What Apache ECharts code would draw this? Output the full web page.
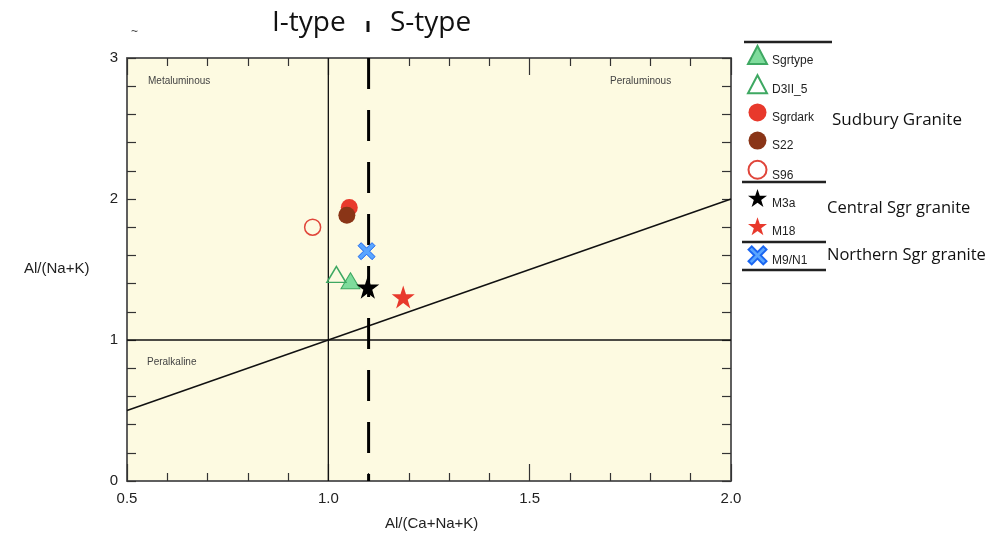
<!DOCTYPE html>
<html>
<head>
<meta charset="utf-8">
<script src="https://cdn.jsdelivr.net/npm/echarts@6/dist/echarts.min.js"></script>
<style>html,body{margin:0;padding:0;background:#fff}#c{width:987px;height:542px}</style>
</head>
<body>
<div id="c"></div>
<script>
// ---- data ----
const xTicks = [0.5, 1.0, 1.5, 2.0];
const yTicks = [0, 1, 2, 3];
const sgrtype = [[1.055, 1.42]];
const d3ii5 = [[1.02, 1.465]];
const sgrdark = [[1.052, 1.94]];
const s22 = [[1.046, 1.885]];
const s96 = [[0.961, 1.80]];
const m3a = [[1.098, 1.375]];
const m18 = [[1.186, 1.305]];
const m9n1 = [[1.095, 1.63]];
// reference lines
const lineDiag = [[0.5, 0.5], [2.0, 2.0]];
const lineV1 = [[1.0, 0], [1.0, 3]];
const lineH1 = [[0.5, 1], [2.0, 1]];
const lineV11 = [[1.1, 3], [1.1, 0]];

const STAR = 'path://M50,0 L61.8,35.4 L99,35.4 L69,57.3 L80.4,92.7 L50,70.8 L19.6,92.7 L31,57.3 L1,35.4 L38.2,35.4 Z';
const XSYM = 'path://M0,18 L18,0 L50,32 L82,0 L100,18 L68,50 L100,82 L82,100 L50,68 L18,100 L0,82 L32,50 Z';

const chart = echarts.init(document.getElementById('c'));
const axisCommonX = (pos, labels) => ({
  type: 'value', position: pos, min: 0.5, max: 2.0, interval: 0.5,
  axisLine: {show: true, onZero: false, lineStyle: {color: '#555', width: 1.5}},
  axisTick: {show: true, inside: true, length: 17, lineStyle: {color: '#333', width: 1.2}},
  minorTick: {show: true, splitNumber: 5, length: 8, lineStyle: {color: '#333', width: 1.2}},
  splitLine: {show: false},
  axisLabel: labels ? {show: true, fontFamily: 'Liberation Sans', fontSize: 15, color: '#222', margin: 10,
    formatter: v => v.toFixed(1)} : {show: false}
});
const axisCommonY = (pos, labels) => ({
  type: 'value', position: pos, min: 0, max: 3, interval: 1,
  axisLine: {show: true, onZero: false, lineStyle: {color: '#555', width: 1.5}},
  axisTick: {show: true, inside: true, length: 9, lineStyle: {color: '#333', width: 1.2}},
  minorTick: {show: true, splitNumber: 5, length: 9, lineStyle: {color: '#333', width: 1.2}},
  splitLine: {show: false},
  axisLabel: labels ? {show: true, fontFamily: 'Liberation Sans', fontSize: 15, color: '#222', margin: 9} : {show: false}
});

const lineSeries = (data, style) => ({
  type: 'line', data: data, symbol: 'none', silent: true, z: 1,
  lineStyle: style, animation: false
});

const option = {
  animation: false,
  grid: {left: 127, right: 256, top: 58, bottom: 61, show: true, backgroundColor: '#FDFAE1', borderColor: '#555', borderWidth: 1.5},
  xAxis: [axisCommonX('bottom', true), axisCommonX('top', false)],
  yAxis: [axisCommonY('left', true), axisCommonY('right', false)],
  legend: {
    orient: 'vertical', left: 747, top: 45, padding: 0, itemWidth: 19, itemHeight: 18, itemGap: 7.7,
    formatter: '{a|{name}}',
    textStyle: {fontFamily: 'Liberation Sans', fontSize: 12, color: '#222',
      rich: {a: {fontFamily: 'Liberation Sans', fontSize: 12, color: '#222', padding: [11, 0, 0, 0]}}},
    data: ['Sgrtype', 'D3II_5', 'Sgrdark', 'S22', 'S96', 'M3a', 'M18', 'M9/N1']
  },
  series: [
    lineSeries(lineDiag, {color: '#111', width: 1.5}),
    lineSeries(lineV1, {color: '#111', width: 1.3}),
    lineSeries(lineH1, {color: '#111', width: 1.3}),
    lineSeries(lineV11, {color: '#000', width: 3, type: [31, 21]}),
    {name: 'Sgrtype', type: 'scatter', data: sgrtype, symbol: 'triangle', symbolSize: [19, 16], z: 3,
      itemStyle: {color: '#7fdc9c', borderColor: '#3ea862', borderWidth: 1, opacity: 1}},
    {name: 'D3II_5', type: 'scatter', data: d3ii5, symbol: 'triangle', symbolSize: [19, 16], z: 3,
      itemStyle: {color: 'rgba(255,255,255,0)', borderColor: '#3ea862', borderWidth: 1.5, opacity: 1}},
    {name: 'Sgrdark', type: 'scatter', data: sgrdark, symbol: 'circle', symbolSize: 17, z: 3,
      itemStyle: {color: '#e8392c', borderWidth: 0, opacity: 1}},
    {name: 'S22', type: 'scatter', data: s22, symbol: 'circle', symbolSize: 17, z: 4,
      itemStyle: {color: '#8a3517', borderWidth: 0, opacity: 1}},
    {name: 'S96', type: 'scatter', data: s96, symbol: 'circle', symbolSize: 16, z: 3,
      itemStyle: {color: 'rgba(255,255,255,0)', borderColor: '#e0453a', borderWidth: 1.5, opacity: 1}},
    {name: 'M3a', type: 'scatter', data: m3a, symbol: STAR, symbolSize: 23, z: 5,
      itemStyle: {color: '#000', opacity: 1}},
    {name: 'M18', type: 'scatter', data: m18, symbol: STAR, symbolSize: 23, z: 5,
      itemStyle: {color: '#e8392c', opacity: 1}},
    {name: 'M9/N1', type: 'scatter', data: m9n1, symbol: XSYM, symbolSize: 17, z: 5,
      itemStyle: {color: '#5aa6ff', borderColor: '#1a66f2', borderWidth: 1, opacity: 1}}
  ],
  graphic: [
    {type: 'text', left: 148, top: 76, style: {text: 'Metaluminous', font: '10px "Liberation Sans"', fill: '#444'}},
    {type: 'text', left: 610, top: 76, style: {text: 'Peraluminous', font: '10px "Liberation Sans"', fill: '#444'}},
    {type: 'text', left: 147, top: 357, style: {text: 'Peralkaline', font: '10px "Liberation Sans"', fill: '#444'}},
    {type: 'text', left: 131, top: 26, style: {text: '~', font: '12px "Liberation Sans"', fill: '#444'}},
    {type: 'text', left: 24, top: 261, style: {text: 'Al/(Na+K)', font: '15px "Liberation Sans"', fill: '#222'}},
    {type: 'text', left: 385, top: 516, style: {text: 'Al/(Ca+Na+K)', font: '15px "Liberation Sans"', fill: '#222'}},
    {type: 'text', left: 272, top: 9, style: {text: 'I-type', font: '28px "Open Sans"', fill: '#111'}},
    {type: 'text', left: 390, top: 9, style: {text: 'S-type', font: '28px "Open Sans"', fill: '#111'}},
    {type: 'line', shape: {x1: 368, y1: 21, x2: 368, y2: 32}, style: {stroke: '#111', lineWidth: 3}},
    {type: 'line', shape: {x1: 744, y1: 42, x2: 832, y2: 42}, style: {stroke: '#222', lineWidth: 2.5}},
    {type: 'line', shape: {x1: 742, y1: 182, x2: 826, y2: 182}, style: {stroke: '#222', lineWidth: 2.5}},
    {type: 'line', shape: {x1: 742, y1: 242, x2: 826, y2: 242}, style: {stroke: '#222', lineWidth: 2.5}},
    {type: 'line', shape: {x1: 742, y1: 270, x2: 826, y2: 270}, style: {stroke: '#222', lineWidth: 2.5}},
    {type: 'text', left: 832, top: 112, style: {text: 'Sudbury Granite', font: '17px "Open Sans"', fill: '#111'}},
    {type: 'text', left: 827, top: 200, style: {text: 'Central Sgr granite', font: '16.5px "Open Sans"', fill: '#111'}},
    {type: 'text', left: 827, top: 247, style: {text: 'Northern Sgr granite', font: '16.5px "Open Sans"', fill: '#111'}}
  ]
};
chart.setOption(option);
</script>
</body>
</html>
